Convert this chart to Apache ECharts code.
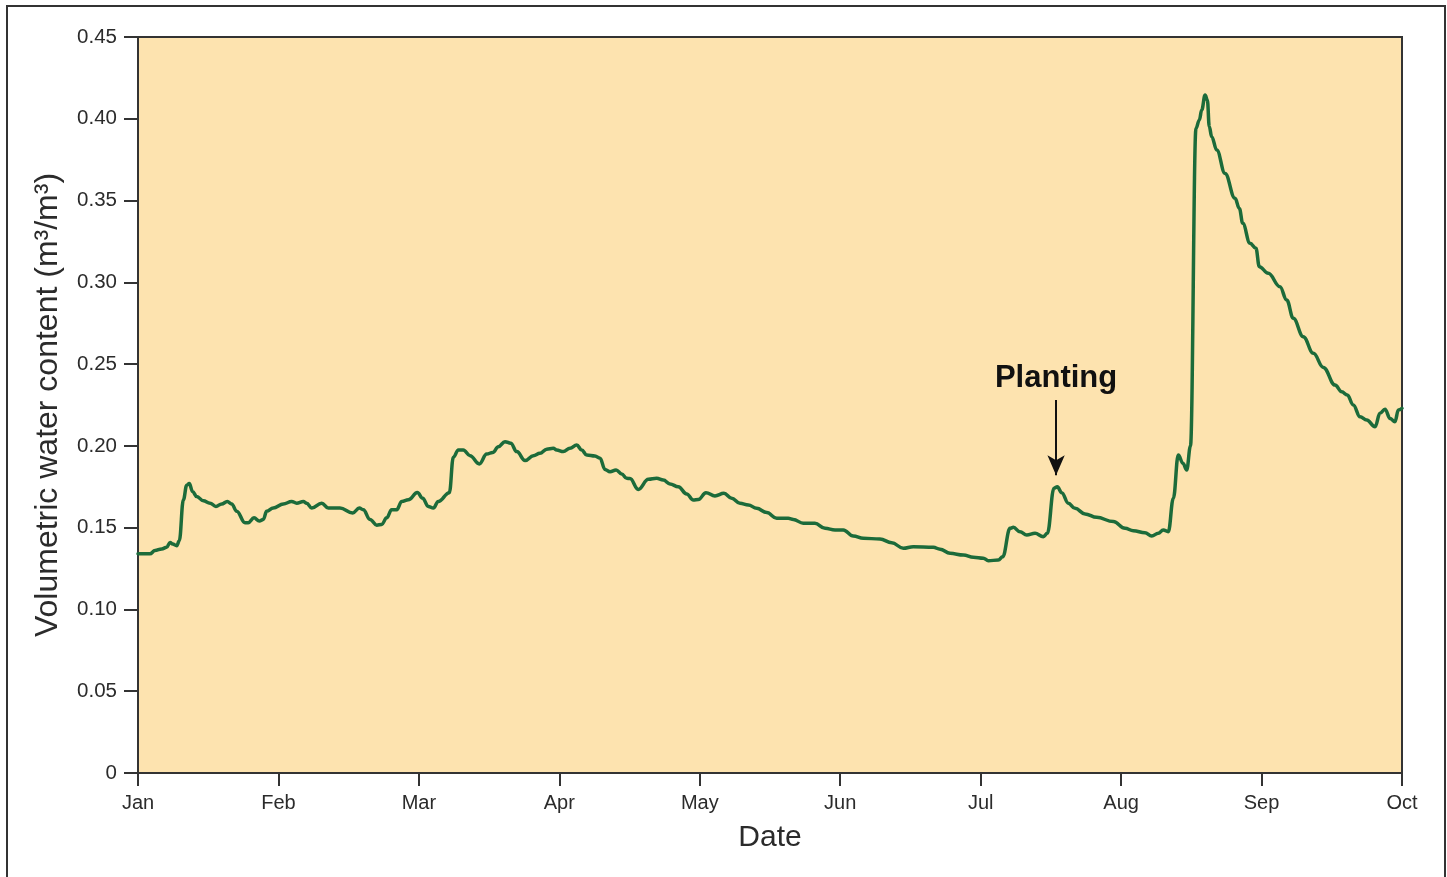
<!DOCTYPE html>
<html>
<head>
<meta charset="utf-8">
<title>Volumetric water content</title>
<script src="https://cdn.jsdelivr.net/npm/echarts@6/dist/echarts.min.js"></script>
<style>
  html, body { margin: 0; padding: 0; background: #ffffff; }
  #chart { width: 1447px; height: 877px; }
</style>
</head>
<body>
<div id="chart"></div>
<script>
// Month labels for the date axis (one tick per month start)
const months = ['Jan', 'Feb', 'Mar', 'Apr', 'May', 'Jun', 'Jul', 'Aug', 'Sep', 'Oct'];

// Value-axis tick labels
const yTickLabels = ['0', '0.05', '0.10', '0.15', '0.20', '0.25', '0.30', '0.35', '0.40', '0.45'];

// Time position of each reading, in months since 1 Jan
const monthPos = [
  0.000, 0.085, 0.121, 0.169, 0.204, 0.228, 0.247, 0.276, 0.294, 0.323,
  0.347, 0.365, 0.389, 0.418, 0.465, 0.513, 0.555, 0.596, 0.636, 0.667,
  0.703, 0.762, 0.785, 0.826, 0.864, 0.892, 0.916, 0.963, 1.035, 1.094,
  1.130, 1.177, 1.201, 1.237, 1.308, 1.355, 1.438, 1.529, 1.576, 1.604,
  1.652, 1.700, 1.735, 1.771, 1.806, 1.842, 1.878, 1.925, 1.989, 2.027,
  2.067, 2.103, 2.138, 2.217, 2.245, 2.281, 2.316, 2.364, 2.430, 2.483,
  2.526, 2.566, 2.613, 2.654, 2.697, 2.756, 2.815, 2.862, 2.910, 2.957,
  2.981, 3.028, 3.076, 3.124, 3.159, 3.195, 3.254, 3.290, 3.325, 3.361,
  3.404, 3.444, 3.480, 3.503, 3.562, 3.634, 3.693, 3.740, 3.788, 3.847,
  3.907, 3.954, 3.990, 4.044, 4.108, 4.172, 4.227, 4.286, 4.346, 4.405,
  4.477, 4.548, 4.630, 4.666, 4.737, 4.820, 4.892, 4.963, 5.022, 5.093,
  5.164, 5.283, 5.367, 5.449, 5.520, 5.663, 5.711, 5.782, 5.877, 5.948,
  6.019, 6.055, 6.126, 6.157, 6.209, 6.233, 6.280, 6.328, 6.387, 6.446,
  6.475, 6.522, 6.546, 6.577, 6.624, 6.672, 6.743, 6.826, 6.945, 7.028,
  7.087, 7.170, 7.218, 7.265, 7.300, 7.336, 7.372, 7.407, 7.441, 7.467,
  7.494, 7.533, 7.557, 7.574, 7.598, 7.614, 7.628, 7.645, 7.681, 7.740,
  7.811, 7.842, 7.866, 7.918, 7.960, 7.984, 8.048, 8.131, 8.179, 8.226,
  8.297, 8.369, 8.440, 8.523, 8.571, 8.611, 8.653, 8.701, 8.749, 8.808,
  8.843, 8.879, 8.915, 8.950, 8.974, 9.000
];

// Volumetric water content (m3/m3) at each reading
const vwc = [
  0.134, 0.134, 0.136, 0.137, 0.138, 0.141, 0.140, 0.139, 0.142, 0.167,
  0.176, 0.177, 0.172, 0.169, 0.1665, 0.165, 0.163, 0.1645, 0.166, 0.1645,
  0.160, 0.153, 0.153, 0.156, 0.154, 0.155, 0.160, 0.162, 0.1645, 0.166,
  0.165, 0.166, 0.165, 0.162, 0.165, 0.162, 0.162, 0.159, 0.162, 0.161,
  0.155, 0.1515, 0.152, 0.156, 0.161, 0.161, 0.166, 0.167, 0.1715, 0.168,
  0.163, 0.162, 0.166, 0.1714, 0.193, 0.1975, 0.1975, 0.194, 0.189, 0.195,
  0.196, 0.1995, 0.2026, 0.2016, 0.1965, 0.191, 0.194, 0.1955, 0.198, 0.1985,
  0.1975, 0.1965, 0.1985, 0.2005, 0.1975, 0.1944, 0.1938, 0.1924, 0.1856, 0.1842,
  0.1853, 0.1828, 0.1802, 0.180, 0.1734, 0.1796, 0.1802, 0.1791, 0.1767, 0.175,
  0.1706, 0.1669, 0.1672, 0.1714, 0.1694, 0.171, 0.168, 0.1649, 0.1639, 0.1618,
  0.1592, 0.1557, 0.1557, 0.155, 0.1527, 0.1527, 0.1496, 0.1486, 0.1486, 0.1449,
  0.1435, 0.1431, 0.1408, 0.1374, 0.1384, 0.138, 0.1368, 0.1343, 0.1333, 0.1319,
  0.1313, 0.1298, 0.1302, 0.1322, 0.1496, 0.1502, 0.1475, 0.1455, 0.1466, 0.1445,
  0.1466, 0.1741, 0.175, 0.1714, 0.1649, 0.1618, 0.1584, 0.1563, 0.1537, 0.1496,
  0.1481, 0.1469, 0.1449, 0.1466, 0.1486, 0.1475, 0.168, 0.1944, 0.1893, 0.1853,
  0.200, 0.3941, 0.3993, 0.4054, 0.4145, 0.4115, 0.3951, 0.389, 0.3809, 0.3666,
  0.3514, 0.3452, 0.3361, 0.3239, 0.3208, 0.3096, 0.3055, 0.2973, 0.2892, 0.278,
  0.2668, 0.2566, 0.248, 0.2372, 0.2331, 0.2311, 0.225, 0.2178, 0.2158, 0.2117,
  0.2199, 0.2224, 0.2168, 0.2148, 0.2219, 0.223
];

// Planting event: time position, arrow top and arrow tip values
const plantingLabel = 'Planting';
const plantingMonth = 6.537;
const plantingArrowTop = 0.228;
const plantingArrowTip = 0.182;
const plantingTextAt = 0.2415;

const seriesData = monthPos.map((m, i) => [m, vwc[i]]);

const FONT = '"Liberation Sans", Arial, Helvetica, sans-serif';
const INK = '#2b2b2b';

const chart = echarts.init(document.getElementById('chart'), null, { renderer: 'canvas' });

chart.setOption({
  animation: false,
  backgroundColor: '#ffffff',
  textStyle: { fontFamily: FONT },
  graphic: [{
    type: 'rect',
    shape: { x: 7, y: 6, width: 1438, height: 890 },
    style: { fill: 'none', stroke: '#333333', lineWidth: 2 },
    z: 0
  }],
  grid: {
    left: 138, right: 45, top: 37, bottom: 104,
    show: true,
    backgroundColor: '#FDE3AF',
    borderColor: '#333333',
    borderWidth: 2
  },
  xAxis: {
    type: 'value',
    min: 0, max: 9, interval: 1,
    name: 'Date',
    nameLocation: 'middle',
    nameGap: 50,
    nameTextStyle: { fontFamily: FONT, fontSize: 30, color: INK },
    axisLine: { show: true, lineStyle: { color: '#333333', width: 2 } },
    axisTick: { show: true, inside: false, length: 13, lineStyle: { color: '#333333', width: 2 } },
    axisLabel: {
      fontFamily: FONT, fontSize: 20, color: INK, margin: 20,
      formatter: v => months[Math.round(v)] || ''
    },
    splitLine: { show: false }
  },
  yAxis: {
    type: 'value',
    min: 0, max: 0.45, interval: 0.05,
    name: 'Volumetric water content (m³/m³)',
    nameLocation: 'middle',
    nameGap: 74,
    nameTextStyle: { fontFamily: FONT, fontSize: 32, color: INK },
    axisLine: { show: true, lineStyle: { color: '#333333', width: 2 } },
    axisTick: { show: true, inside: false, length: 14, lineStyle: { color: '#333333', width: 2 } },
    axisLabel: {
      fontFamily: FONT, fontSize: 20.5, color: INK, margin: 21,
      formatter: v => yTickLabels[Math.round(v / 0.05)]
    },
    splitLine: { show: false }
  },
  series: [{
    type: 'line',
    data: seriesData,
    showSymbol: false,
    smooth: 0.4,
    smoothMonotone: 'x',
    lineStyle: { color: '#1C6B3A', width: 3.5, cap: 'round', join: 'round' },
    markLine: {
      silent: true,
      symbol: ['none', 'arrow'],
      symbolSize: [13, 20],
      lineStyle: { color: '#111111', width: 2, type: 'solid' },
      label: { show: false },
      data: [[
        { coord: [plantingMonth, plantingArrowTop] },
        { coord: [plantingMonth, plantingArrowTip] }
      ]]
    },
    markPoint: {
      silent: true,
      symbol: 'circle',
      symbolSize: 0,
      label: {
        show: true,
        position: 'inside',
        formatter: plantingLabel,
        fontFamily: FONT,
        fontSize: 31,
        fontWeight: 'bold',
        color: '#111111'
      },
      data: [{ coord: [plantingMonth, plantingTextAt] }]
    }
  }]
});
</script>
</body>
</html>
